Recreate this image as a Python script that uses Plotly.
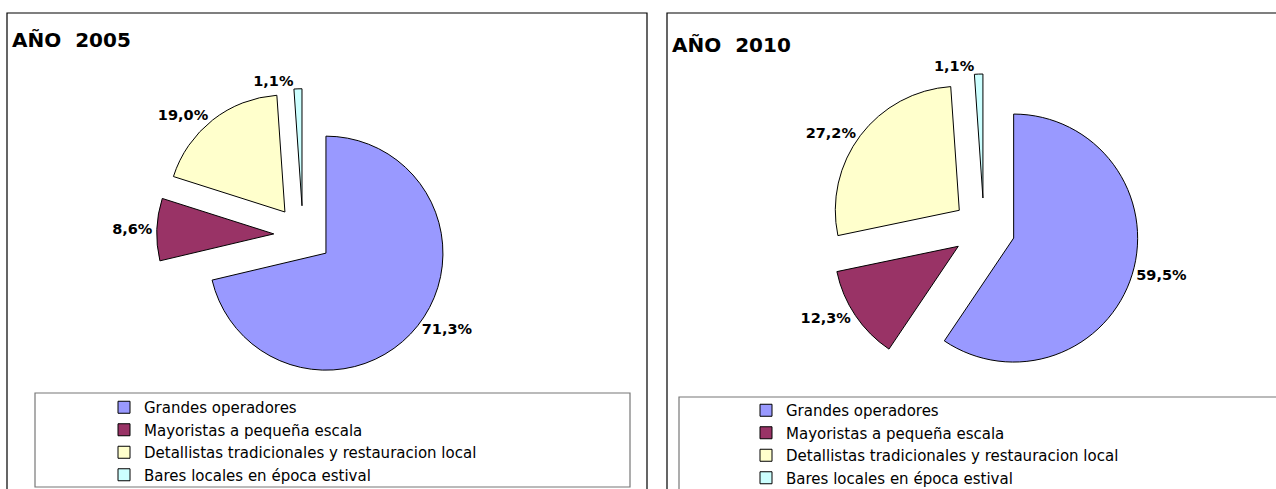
import plotly.graph_objects as go

W, H = 1276, 489

categorias = [
    "Grandes operadores",
    "Mayoristas a pequeña escala",
    "Detallistas tradicionales y restauracion local",
    "Bares locales en época estival",
]
valores_2005 = [71.3, 8.6, 19.0, 1.1]
valores_2010 = [59.5, 12.3, 27.2, 1.1]
colores = ["#9999FF", "#993366", "#FFFFCC", "#CCFFFF"]
titulos = ["AÑO  2005", "AÑO  2010"]


def px_x(v):
    return v / W


def px_y(v):
    return 1 - v / H


def dominio(cx, cy, r, pull):
    half = r * (1 + pull)
    return dict(x=[px_x(cx - half - 60), px_x(cx + half + 60)],
                y=[px_y(cy + half), px_y(cy - half)])


pull = 0.25
label_font = dict(family="DejaVu Sans", size=14.5, color="black", weight="bold")
fig = go.Figure()

fig.add_trace(go.Pie(
    labels=categorias, values=valores_2005, sort=False,
    direction="clockwise", rotation=0, pull=[pull] * 4,
    marker=dict(colors=colores, line=dict(color="black", width=1)),
    texttemplate="%{value:.1f}%", textposition="outside", textfont=label_font,
    domain=dominio(303, 235, 117, pull),
    legend="legend", legendgroup="a2005", hoverinfo="label+value",
))

fig.add_trace(go.Pie(
    labels=categorias, values=valores_2010, sort=False,
    direction="clockwise", rotation=0, pull=[pull] * 4,
    marker=dict(colors=colores, line=dict(color="black", width=1)),
    texttemplate="%{value:.1f}%", textposition="outside", textfont=label_font,
    domain=dominio(984, 229, 124, pull),
    legend="legend2", legendgroup="a2010", hoverinfo="label+value",
))

leg_font = dict(family="DejaVu Sans", size=15, color="black")
leg_common = dict(font=leg_font, bgcolor="rgba(0,0,0,0)", borderwidth=0,
                  xanchor="left", yanchor="top", itemclick=False,
                  tracegroupgap=0)

# panel frames and legend boxes
shapes = [
    dict(type="rect", xref="paper", yref="paper",
         x0=px_x(7), x1=px_x(647), y0=px_y(500), y1=px_y(13),
         line=dict(color="black", width=1.2)),
    dict(type="rect", xref="paper", yref="paper",
         x0=px_x(667), x1=px_x(1290), y0=px_y(500), y1=px_y(13),
         line=dict(color="black", width=1.2)),
    dict(type="rect", xref="paper", yref="paper",
         x0=px_x(35), x1=px_x(630), y0=px_y(487), y1=px_y(393),
         line=dict(color="#777777", width=1.2)),
    dict(type="rect", xref="paper", yref="paper",
         x0=px_x(679), x1=px_x(1290), y0=px_y(500), y1=px_y(397),
         line=dict(color="#777777", width=1.2)),
]

annotations = [
    dict(text=titulos[0], xref="paper", yref="paper", x=px_x(10), y=px_y(26),
         xanchor="left", yanchor="top", showarrow=False,
         font=dict(family="DejaVu Sans", size=20, color="black", weight="bold")),
    dict(text=titulos[1], xref="paper", yref="paper", x=px_x(670), y=px_y(31),
         xanchor="left", yanchor="top", showarrow=False,
         font=dict(family="DejaVu Sans", size=20, color="black", weight="bold")),
]

fig.update_layout(
    width=W, height=H,
    margin=dict(l=0, r=0, t=0, b=0, autoexpand=False),
    paper_bgcolor="white", plot_bgcolor="white",
    separators=", ",
    shapes=shapes, annotations=annotations,
    legend=dict(x=px_x(104), y=px_y(391), **leg_common),
    legend2=dict(x=px_x(746), y=px_y(394), **leg_common),
)

# the page body has a default 8px margin; drop it so the figure sits at 0,0
fig.write_html("out.html", config={"displayModeBar": False},
               post_script="document.body.style.margin='0';")
